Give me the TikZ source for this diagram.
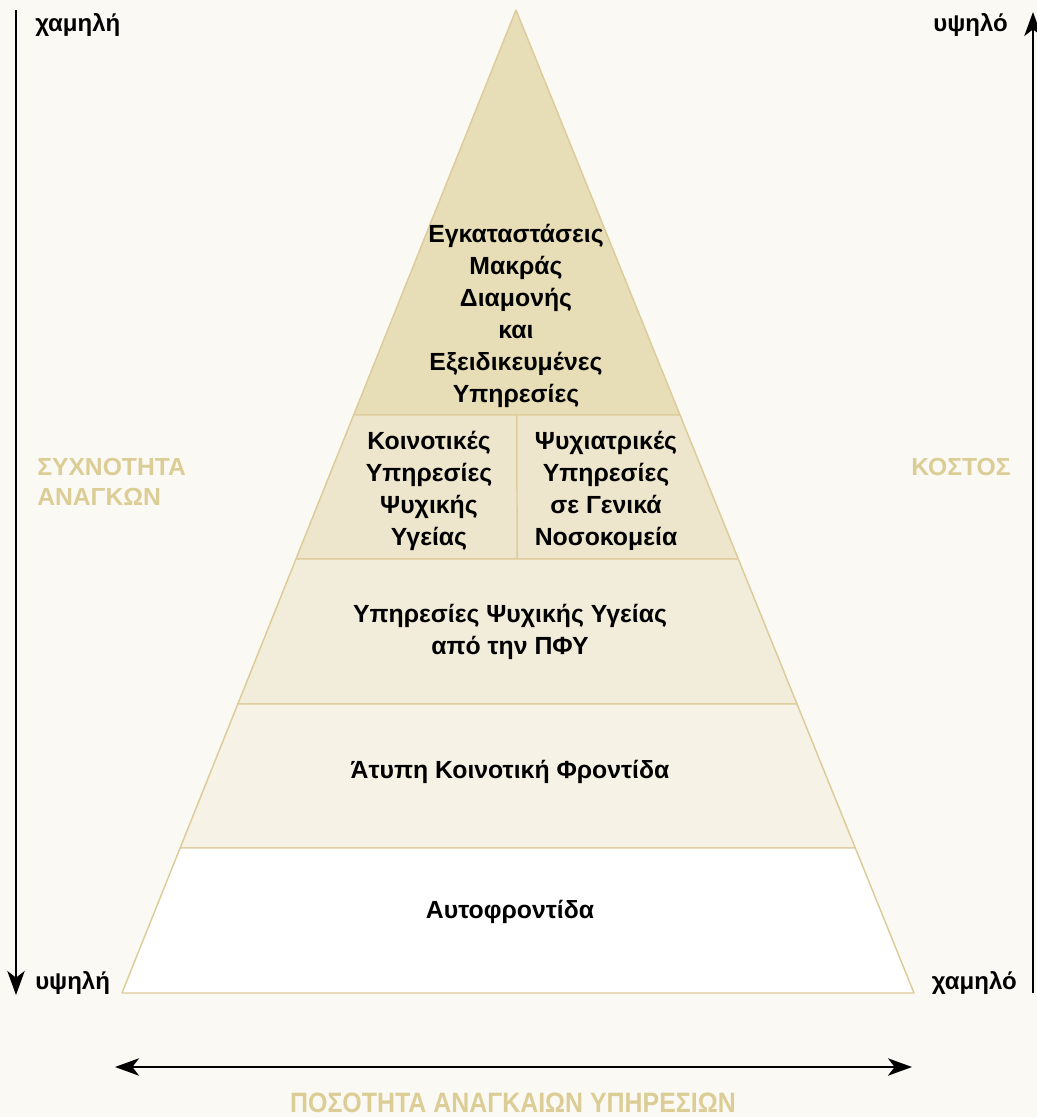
\documentclass[tikz,border=0pt]{standalone}
\usepackage{fontspec}
\setmainfont{Liberation Sans}
\usetikzlibrary{calc,positioning,arrows.meta}
\definecolor{bgcol}{HTML}{FAF9F3}
\definecolor{tierA}{HTML}{E7DDB7}
\definecolor{tierB}{HTML}{EDE5CC}
\definecolor{tierC}{HTML}{F2ECDB}
\definecolor{tierD}{HTML}{F6F2E5}
\definecolor{edgecol}{HTML}{DDCC9A}
\definecolor{labelcol}{HTML}{DCCD96}
\begin{document}
\begin{tikzpicture}[x=0.75pt,y=-0.75pt]
    \tikzset{every path/.style={>={Stealth[length=18pt,width=13pt,inset=5pt]}},
      tier text/.style={font=\bfseries\fontsize{18.6}{24}\selectfont,align=center},
      side text/.style={font=\bfseries\fontsize{18}{22}\selectfont,inner sep=0pt},
      axis text/.style={font=\bfseries\fontsize{18.5}{22.5}\selectfont,text=labelcol,inner sep=0pt},
      axis arrow/.style={line width=1.9pt},
      tier/.style={draw=edgecol,line width=1.1pt,line join=round}}
    \fill[bgcol] (0,0) rectangle (1037,1117);
    \useasboundingbox (0,0) rectangle (1037,1117);
%    pyramid corners
    \coordinate (apex) at (516,10);
    \coordinate (bl) at (122,993);
    \coordinate (br) at (914,993);
      \foreach \f [count=\i] in {0.412,0.5585,0.706,0.8525}
       { \coordinate (l\i) at ($(apex)!\f!(bl)$);
         \coordinate (r\i) at ($(apex)!\f!(br)$);
       }
    \filldraw[tier,fill=tierA] (apex)--(r1)--(l1)--cycle;
    \filldraw[tier,fill=tierB] (l1)--(r1)--(r2)--(l2)--cycle;
    \filldraw[tier,fill=tierC] (l2)--(r2)--(r3)--(l3)--cycle;
    \filldraw[tier,fill=tierD] (l3)--(r3)--(r4)--(l4)--cycle;
    \filldraw[tier,fill=white] (l4)--(r4)--(br)--(bl)--cycle;
    \coordinate (d1) at ($(l1)!0.5!(r1)$);
    \coordinate (d2) at ($(l2)!0.5!(r2)$);
    \draw[tier] (d1)--(d2);
%    tier labels
    \node [tier text] (longstay) at (516,316) {Εγκαταστάσεις\\Μακράς\\Διαμονής\\και\\Εξειδικευμένες\\Υπηρεσίες};
    \node [tier text] (community) at (429,491) {Κοινοτικές\\Υπηρεσίες\\Ψυχικής\\Υγείας};
    \node [tier text] (hospital) at (606,491) {Ψυχιατρικές\\Υπηρεσίες\\σε Γενικά\\Νοσοκομεία};
    \node [tier text] (primary) at (510,632) {Υπηρεσίες Ψυχικής Υγείας\\από την ΠΦΥ};
    \node [tier text] (informal) at (510,772) {Άτυπη Κοινοτική Φροντίδα};
    \node [tier text] (selfcare) at (510,912) {Αυτοφροντίδα};
%    axes
    \coordinate (lt) at (16,10);
    \coordinate (lb) at (16,995);
    \coordinate (rb) at (1033,993);
    \coordinate (rt) at (1033,12);
    \coordinate (hl) at (115,1067);
    \coordinate (hr) at (912,1067);
    \draw[axis arrow,->] (lt)--(lb);
    \draw[axis arrow,->] (rb)--(rt);
    \draw[axis arrow,<->] (hl)--(hr);
    \node [side text,anchor=west] (freqlow) at (35,25) {χαμηλή};
    \node [side text,anchor=west] (freqhigh) at (35,983) {υψηλή};
    \node [side text,anchor=east] (costhigh) at (1008,25) {υψηλό};
    \node [side text,anchor=east] (costlow) at (1017,983) {χαμηλό};
    \node [axis text,anchor=west,align=left] (freq) at (37,482) {ΣΥΧΝΟΤΗΤΑ\\ΑΝΑΓΚΩΝ};
    \node [axis text] (cost) at (961,467) {ΚΟΣΤΟΣ};
    \node [axis text,font=\bfseries\fontsize{21}{24}\selectfont] (quantity) at (513,1103) {\scalebox{0.89}[1]{ΠΟΣΟΤΗΤΑ ΑΝΑΓΚΑΙΩΝ ΥΠΗΡΕΣΙΩΝ}};
\end{tikzpicture}
\end{document}
